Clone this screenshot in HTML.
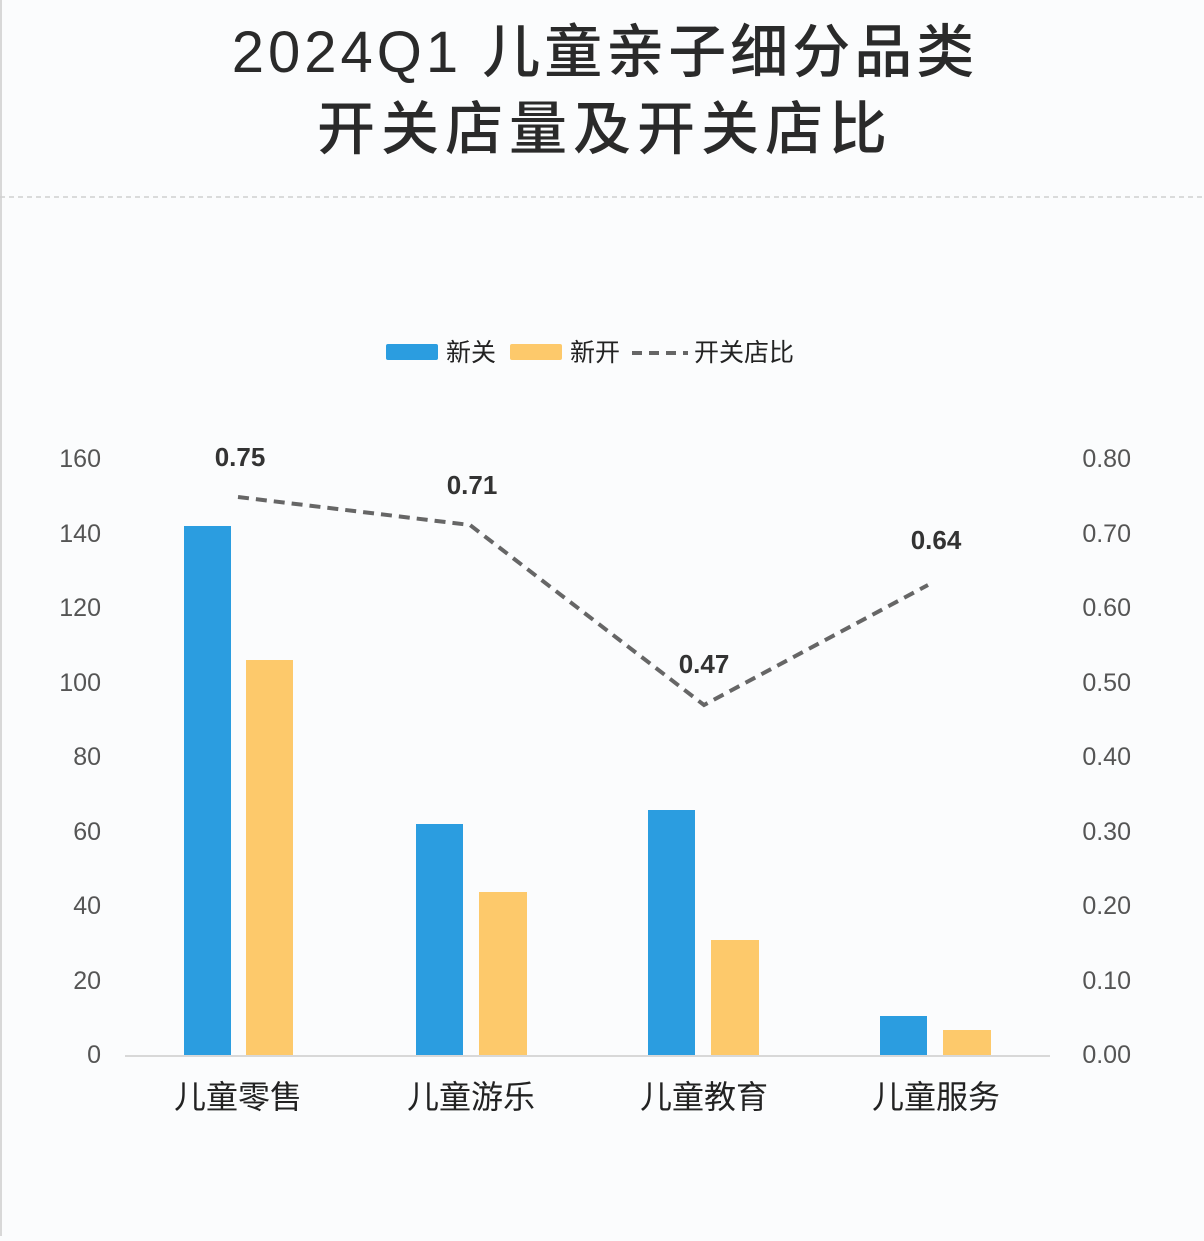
<!DOCTYPE html>
<html><head><meta charset="utf-8"><style>
html,body{margin:0;padding:0;background:#fbfcfd;}
body{width:1204px;height:1236px;overflow:hidden;font-family:"Liberation Sans","Noto Sans CJK SC",sans-serif;}
</style></head><body>
<svg width="1204" height="1236" xmlns="http://www.w3.org/2000/svg" style="font-family:'Liberation Sans','Noto Sans CJK SC',sans-serif">
<rect width="1204" height="1236" fill="#fbfcfd"/>
<line x1="1" y1="0" x2="1" y2="1236" stroke="#d8d8d8" stroke-width="2"/>
<text x="605" y="72" text-anchor="middle" font-size="58" letter-spacing="4" font-weight="500" fill="#2a2a2a">2024Q1 儿童亲子细分品类</text>
<text x="605" y="149" text-anchor="middle" font-size="58" letter-spacing="6" font-weight="500" fill="#2a2a2a">开关店量及开关店比</text>
<line x1="0" y1="197" x2="1204" y2="197" stroke="#d0d0d0" stroke-width="1.5" stroke-dasharray="5,4"/>
<rect x="386" y="344" width="52" height="16" rx="2" fill="#2b9de0"/>
<text x="446" y="361" font-size="25" fill="#222">新关</text>
<rect x="510" y="344" width="52" height="16" rx="2" fill="#fdc96b"/>
<text x="570" y="361" font-size="25" fill="#222">新开</text>
<line x1="632" y1="353" x2="688" y2="353" stroke="#666" stroke-width="4" stroke-dasharray="10,7"/>
<text x="694" y="361" font-size="25" fill="#222">开关店比</text>
<g font-size="25" fill="#555" text-anchor="end">
<text x="101" y="467">160</text><text x="101" y="542">140</text><text x="101" y="616">120</text>
<text x="101" y="691">100</text><text x="101" y="765">80</text><text x="101" y="840">60</text>
<text x="101" y="914">40</text><text x="101" y="989">20</text><text x="101" y="1063">0</text>
</g>
<g font-size="25" fill="#555" text-anchor="end">
<text x="1131" y="467">0.80</text><text x="1131" y="542">0.70</text><text x="1131" y="616">0.60</text>
<text x="1131" y="691">0.50</text><text x="1131" y="765">0.40</text><text x="1131" y="840">0.30</text>
<text x="1131" y="914">0.20</text><text x="1131" y="989">0.10</text><text x="1131" y="1063">0.00</text>
</g>
<g fill="#2b9de0">
<rect x="184" y="526" width="47" height="530"/>
<rect x="416" y="824" width="47" height="232"/>
<rect x="648" y="810" width="47" height="246"/>
<rect x="880" y="1016" width="47" height="40"/>
</g>
<g fill="#fdc96b">
<rect x="246" y="660" width="47" height="396"/>
<rect x="479" y="892" width="48" height="164"/>
<rect x="711" y="940" width="48" height="116"/>
<rect x="943" y="1030" width="48" height="26"/>
</g>
<line x1="125" y1="1056" x2="1050" y2="1056" stroke="#d8d8d8" stroke-width="2"/>
<polyline points="238,497 470,525 704,705 928,585" fill="none" stroke="#666" stroke-width="4" stroke-dasharray="11,7"/>
<g font-size="26" font-weight="bold" fill="#333" text-anchor="middle">
<text x="240" y="466">0.75</text><text x="472" y="494">0.71</text>
<text x="704" y="673">0.47</text><text x="936" y="549">0.64</text>
</g>
<g font-size="32" fill="#222" text-anchor="middle">
<text x="238" y="1108">儿童零售</text><text x="471" y="1108">儿童游乐</text>
<text x="704" y="1108">儿童教育</text><text x="936" y="1108">儿童服务</text>
</g>
</svg>
</body></html>
